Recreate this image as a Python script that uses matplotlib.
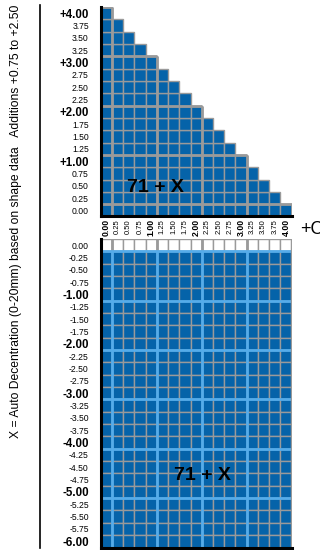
import matplotlib
matplotlib.use('Agg')
import matplotlib.pyplot as plt
from matplotlib.patches import Rectangle
from matplotlib.lines import Line2D

# column values (shared by both panels)
x_vals = [0.00, 0.25, 0.50, 0.75, 1.00, 1.25, 1.50, 1.75, 2.00,
          2.25, 2.50, 2.75, 3.00, 3.25, 3.50, 3.75, 4.00]
x_labels = ['0.00', '0.25', '0.50', '0.75', '1.00', '1.25', '1.50', '1.75', '2.00',
            '2.25', '2.50', '2.75', '3.00', '3.25', '3.50', '3.75', '4.00']

# top panel: rows and how many cells each row has (staircase)
top_rows = [0.00, 0.25, 0.50, 0.75, 1.00, 1.25, 1.50, 1.75, 2.00,
            2.25, 2.50, 2.75, 3.00, 3.25, 3.50, 3.75, 4.00]
top_labels = ['0.00', '0.25', '0.50', '0.75', '+1.00', '1.25', '1.50', '1.75', '+2.00',
              '2.25', '2.50', '2.75', '+3.00', '3.25', '3.50', '3.75', '+4.00']
top_counts = [17, 16, 15, 14, 13, 12, 11, 10, 9, 8, 7, 6, 5, 4, 3, 2, 1]

# bottom panel rows
bottom_rows = [0.00, -0.25, -0.50, -0.75, -1.00, -1.25, -1.50, -1.75, -2.00,
               -2.25, -2.50, -2.75, -3.00, -3.25, -3.50, -3.75, -4.00,
               -4.25, -4.50, -4.75, -5.00, -5.25, -5.50, -5.75, -6.00]
bottom_labels = ['0.00', '-0.25', '-0.50', '-0.75', '-1.00', '-1.25', '-1.50', '-1.75', '-2.00',
                 '-2.25', '-2.50', '-2.75', '-3.00', '-3.25', '-3.50', '-3.75', '-4.00',
                 '-4.25', '-4.50', '-4.75', '-5.00', '-5.25', '-5.50', '-5.75', '-6.00']
white_rows = [0.00]

title = 'X = Auto Decentration (0-20mm) based on shape data   Additions +0.75 to +2.50'

BLUE = '#0563a9'
GREY = '#9a9a9a'
LBLUE = '#55acea'
FONT = ['Liberation Sans', 'DejaVu Sans']
h = 0.125

fig = plt.figure(figsize=(3.2, 5.5), dpi=100)
W, H = 320.0, 550.0


def box(l, t, r, b):
    return [l / W, 1 - b / H, (r - l) / W, (b - t) / H]


def style_labels(labels, bold_test, big, small):
    for lab in labels:
        txt = lab.get_text()
        if bold_test(txt):
            lab.set_fontweight('bold')
            lab.set_fontsize(big)
        else:
            lab.set_fontsize(small)
        lab.set_family(FONT)


def is_int_label(t, zero_bold):
    v = float(t)
    if v == 0:
        return zero_bold
    return v == int(v)


# ---------- top panel ----------
ax1 = fig.add_axes(box(100.6, 7, 291.7, 216.5))
for y, n in zip(top_rows, top_counts):
    for x in x_vals[:n]:
        ax1.add_patch(Rectangle((x - h, y - h), 0.25, 0.25, facecolor=BLUE,
                                edgecolor=GREY, lw=1.0))
# thicker grey lines at whole values
for k in [0, 1, 2, 3, 4]:
    n = top_counts[top_rows.index(k)]
    ax1.plot([-h, x_vals[n - 1] + h], [k + h, k + h], color=GREY, lw=2.0,
             solid_capstyle='butt')
    n2 = top_counts[x_vals.index(k)]
    ax1.plot([k + h, k + h], [-h, top_rows[n2 - 1] + h], color=GREY, lw=2.0,
             solid_capstyle='butt')
ax1.set_xlim(-h, 4 + h)
ax1.set_ylim(-h, 4 + h)
for s in ['top', 'right']:
    ax1.spines[s].set_visible(False)
for s in ['left', 'bottom']:
    ax1.spines[s].set_linewidth(2.2)
    ax1.spines[s].set_color('black')
ax1.set_xticks(x_vals)
ax1.set_xticklabels(x_labels, rotation=90)
ax1.set_yticks(top_rows)
ax1.set_yticklabels(top_labels)
ax1.tick_params(axis='x', length=0, pad=2)
ax1.tick_params(axis='y', length=0, pad=8.5)
style_labels(ax1.get_xticklabels(), lambda t: is_int_label(t, True), 6.3, 5.5)
style_labels(ax1.get_yticklabels(), lambda t: is_int_label(t, False), 8.3, 6.2)
ax1.text(1.1, 0.47, '71 + X', fontsize=14, fontweight='bold', ha='center',
         va='center', family=FONT)

# ---------- bottom panel ----------
ax2 = fig.add_axes(box(100.6, 239, 291.7, 547.5))
for y in bottom_rows:
    fc = 'white' if y in white_rows else BLUE
    for x in x_vals:
        ax2.add_patch(Rectangle((x - h, y - h), 0.25, 0.25, facecolor=fc,
                                edgecolor=GREY, lw=1.0))
for k in [0, 1, 2, 3]:
    ax2.plot([k + h, k + h], [bottom_rows[-1] - h, -h], color=LBLUE, lw=2.0,
             solid_capstyle='butt')
    ax2.plot([k + h, k + h], [-h, h], color=GREY, lw=2.0, solid_capstyle='butt')
for k in [0, 1, 2, 3, 4, 5]:
    ax2.plot([-h, 4 + h], [-k - h, -k - h], color=LBLUE, lw=2.0,
             solid_capstyle='butt')
ax2.plot([4 + h, 4 + h], [bottom_rows[-1] - h, h], color=GREY, lw=2.5,
         solid_capstyle='butt')
ax2.set_xlim(-h, 4 + h)
ax2.set_ylim(bottom_rows[-1] - h, h)
for s in ['top', 'right']:
    ax2.spines[s].set_visible(False)
for s in ['left', 'bottom']:
    ax2.spines[s].set_linewidth(2.2)
    ax2.spines[s].set_color('black')
ax2.set_xticks([])
ax2.set_yticks(bottom_rows)
ax2.set_yticklabels(bottom_labels)
ax2.tick_params(axis='y', length=0, pad=8.5)
style_labels(ax2.get_yticklabels(), lambda t: is_int_label(t, False), 8.3, 6.2)
# partly cut label below the last row
ax2.text(-0.4, -6.25, '-6.25', fontsize=6.2, ha='right', va='center',
         family=FONT, clip_on=False)
ax2.text(2.15, -4.66, '71 + X', fontsize=14, fontweight='bold', ha='center',
         va='center', family=FONT)

# ---------- figure-level text ----------
fig.text(300 / W, 1 - 229 / H, '+C', fontsize=13, ha='left', va='center',
         family=FONT)
ttl = fig.text(16 / W, 1 - 221 / H, title, rotation=90, fontsize=9,
               ha='center', va='center', family=FONT)
# fit the title into the length it has in the picture (about 432 px)
fig.canvas.draw()
ext = ttl.get_window_extent()
ttl.set_fontsize(9 * 432.0 / ext.height)
fig.add_artist(Line2D([40 / W, 40 / W], [1 - 5 / H, 1 - 548 / H], color='black',
                      lw=1.2))

fig.savefig('out.png', dpi=100)
